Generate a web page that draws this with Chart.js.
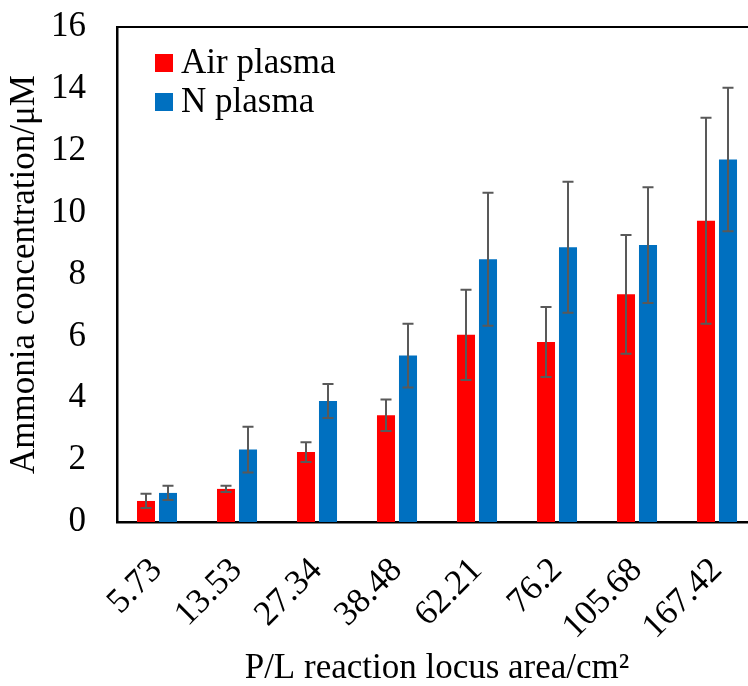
<!DOCTYPE html>
<html>
<head>
<meta charset="utf-8">
<script src="https://cdn.jsdelivr.net/npm/chart.js@4"></script>
<style>
  html, body { margin: 0; padding: 0; background: #ffffff; }
  #wrap { width: 748px; height: 686px; overflow: hidden; position: relative; }
</style>
</head>
<body>
<div id="wrap"><canvas id="c" width="760" height="686"></canvas></div>
<script>
const categories = ['5.73', '13.53', '27.34', '38.48', '62.21', '76.2', '105.68', '167.42'];
const airValues = [0.68, 1.07, 2.26, 3.45, 6.05, 5.82, 7.36, 9.74];
const airErrors = [0.23, 0.10, 0.32, 0.51, 1.46, 1.13, 1.92, 3.33];
const nValues = [0.94, 2.34, 3.91, 5.38, 8.49, 8.88, 8.95, 11.72];
const nErrors = [0.23, 0.74, 0.55, 1.03, 2.15, 2.12, 1.87, 2.32];
const yTicks = [0, 2, 4, 6, 8, 10, 12, 14, 16];

const FONT = 'Liberation Serif, "Times New Roman", serif';

const errorBarPlugin = {
  id: 'errorBars',
  afterDatasetsDraw(chart) {
    const ctx = chart.ctx;
    const yScale = chart.scales.y;
    ctx.save();
    ctx.strokeStyle = '#595959';
    ctx.lineWidth = 2;
    chart.data.datasets.forEach((ds, di) => {
      const meta = chart.getDatasetMeta(di);
      meta.data.forEach((bar, i) => {
        const v = ds.data[i];
        const e = ds.errors[i];
        const yTop = yScale.getPixelForValue(v + e);
        const yBot = yScale.getPixelForValue(v - e);
        const x = bar.x;
        const cap = 5.5;
        ctx.beginPath();
        ctx.moveTo(x, yTop); ctx.lineTo(x, yBot);
        ctx.moveTo(x - cap, yTop); ctx.lineTo(x + cap, yTop);
        ctx.moveTo(x - cap, yBot); ctx.lineTo(x + cap, yBot);
        ctx.stroke();
      });
    });
    ctx.restore();
  }
};

const framePlugin = {
  id: 'frameAndLegend',
  afterDraw(chart) {
    const ctx = chart.ctx;
    const a = chart.chartArea;
    ctx.save();
    // top frame line
    ctx.strokeStyle = '#000000';
    ctx.lineWidth = 2;
    ctx.beginPath();
    ctx.moveTo(a.left, a.top);
    ctx.lineTo(chart.width, a.top);
    ctx.stroke();
    // legend
    ctx.font = '35px ' + FONT;
    ctx.textBaseline = 'alphabetic';
    ctx.textAlign = 'left';
    chart.data.datasets.forEach((ds, i) => {
      const y0 = a.top + 27 + i * 39;
      ctx.fillStyle = ds.backgroundColor;
      ctx.fillRect(a.left + 38, y0, 18, 18);
      ctx.fillStyle = '#000000';
      ctx.fillText(ds.label, a.left + 64, y0 + 19);
    });
    ctx.restore();
  }
};

function zeroPad(scale) {
  scale.paddingTop = 0;
  scale.paddingBottom = 0;
  scale.paddingLeft = 0;
  scale.paddingRight = 0;
}

new Chart(document.getElementById('c'), {
  type: 'bar',
  data: {
    labels: categories,
    datasets: [
      { label: 'Air plasma', data: airValues, errors: airErrors, backgroundColor: '#FF0000', borderWidth: 0 },
      { label: 'N plasma', data: nValues, errors: nErrors, backgroundColor: '#0070C0', borderWidth: 0 }
    ]
  },
  options: {
    responsive: false,
    animation: false,
    devicePixelRatio: 1,
    categoryPercentage: 0.55,
    barPercentage: 0.82,
    layout: { padding: { top: 27, right: 3, bottom: 0, left: 0 } },
    plugins: {
      legend: { display: false },
      tooltip: { enabled: false }
    },
    scales: {
      x: {
        grid: { display: false, drawTicks: false },
        border: { display: true, color: '#000000', width: 2.5 },
        ticks: {
          color: '#000000',
          font: { family: FONT, size: 35 },
          minRotation: 45,
          maxRotation: 45,
          padding: 28,
          autoSkip: false
        },
        title: {
          display: true,
          text: 'P/L reaction locus area/cm\u00B2',
          color: '#000000',
          font: { family: FONT, size: 35, lineHeight: 1 },
          padding: { top: 0, bottom: 0 }
        },
        afterFit(scale) { scale.height = 164; zeroPad(scale); }
      },
      y: {
        min: 0,
        max: 16,
        afterBuildTicks(scale) { scale.ticks = yTicks.map(v => ({ value: v })); },
        grid: { display: false, drawTicks: false },
        border: { display: true, color: '#000000', width: 2.5 },
        ticks: {
          color: '#000000',
          font: { family: FONT, size: 35 },
          padding: 31
        },
        title: {
          display: true,
          text: 'Ammonia concentration/\u03BCM',
          color: '#000000',
          font: { family: FONT, size: 35, lineHeight: 1.2 },
          padding: { top: 4, bottom: 0 }
        },
        afterFit(scale) { scale.width = 117; zeroPad(scale); }
      }
    }
  },
  plugins: [errorBarPlugin, framePlugin]
});
</script>
</body>
</html>
